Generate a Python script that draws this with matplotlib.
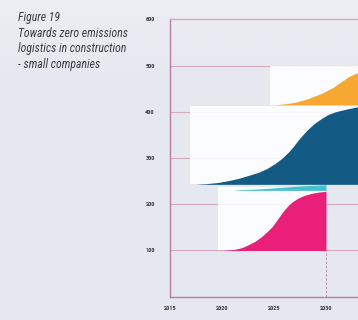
import numpy as np
import matplotlib
matplotlib.use("Agg")
import matplotlib.pyplot as plt
from matplotlib import font_manager

# ==========================
# DATA
# ==========================

x_ticks = [2015, 2020, 2025, 2030]
y_ticks = [100, 200, 300, 400, 500, 600]

orange_years = [2025.1, 2025.7, 2026.35, 2027.0, 2027.6, 2028.3, 2028.9, 2029.6,
                2030.2, 2030.7, 2031.15, 2031.6, 2032.1, 2032.6, 2033.1]
orange_vals = [415, 416.5, 418, 420.5, 424, 428.5, 434, 440,
               447, 453, 460, 467, 475, 480.5, 485]

blue_years = [2017.4, 2018.5, 2019.6, 2020.6, 2021.6, 2022.5, 2023.5, 2024.3,
              2025.1, 2025.8, 2026.4, 2026.9, 2027.3, 2027.8, 2028.3, 2028.9,
              2029.6, 2030.2, 2030.9, 2032.0, 2033.1]
blue_vals = [243, 244.5, 247, 251, 256, 262, 269, 277,
             288, 300, 313, 326, 338, 351, 363, 375,
             386, 394, 400, 406, 411]

cyan_years = [2021.3, 2022.2, 2023.0, 2023.8, 2024.5, 2025.3, 2026.0, 2026.8,
              2027.5, 2028.3, 2029.0, 2030.0]
cyan_vals = [231, 231.7, 232.5, 233.5, 234.5, 235.8, 237, 238.3,
             239.5, 240.4, 241, 242]

pink_years = [2020.0, 2020.6, 2021.25, 2021.9, 2022.5, 2023.2, 2023.8, 2024.3,
              2024.8, 2025.2, 2025.6, 2026.0, 2026.4, 2026.8, 2027.3, 2027.9,
              2028.6, 2029.2, 2030.0]
pink_vals = [100, 101, 102.5, 106, 112, 120, 130, 140,
             151, 163, 176, 188, 198, 206, 213, 219,
             223.5, 226, 228]

title = "Figure 19\nTowards zero emissions\nlogistics in construction\n- small companies"

# ==========================
# STYLE
# ==========================

names = {f.name for f in font_manager.fontManager.ttflist}
narrow = "DejaVu Sans"
for cand in ["Liberation Sans Narrow", "DejaVu Sans Condensed", "Roboto Condensed",
             "Open Sans Condensed", "Noto Sans Condensed"]:
    if cand in names:
        narrow = cand
        break

bg = "#e6e8ef"
grid_col = "#d7a9c2"
spine_col = "#b77fa2"
text_col = "#3b3b40"

fig = plt.figure(figsize=(3.58, 3.2), dpi=100)
fig.patch.set_facecolor(bg)

# faint diagonal texture at the top of the page
bg_ax = fig.add_axes([0, 0, 1, 1], zorder=-10)
h, w = 320, 358
yy, xx = np.mgrid[0:h, 0:w]
stripes = 0.5 + 0.5 * np.sin(2 * np.pi * (xx + yy) / 5.0)
fade = np.clip(1 - yy / 110.0, 0, 1) ** 1.5
base = np.array([0xe6, 0xe8, 0xef]) / 255.0
light = np.array([0xf0, 0xf1, 0xf4]) / 255.0
mix = (fade * (0.45 + 0.35 * stripes))[..., None]
img = base * (1 - mix) + light * mix
bg_ax.imshow(img, aspect="auto", extent=[0, 1, 0, 1], origin="upper")
bg_ax.set_axis_off()

ax = fig.add_axes([170 / 358, 23.3 / 320, 188 / 358, 277.4 / 320])
ax.set_facecolor("none")
ax.set_xlim(2015, 2033.08)
ax.set_ylim(0, 600)

for v in [100, 200, 300, 400, 500]:
    ax.axhline(v, color=grid_col, lw=0.8, zorder=1)

# white panels behind each curve
boxes = [
    (2024.6, 2034, 415, 500),
    (2016.9, 2034, 243, 413),
    (2019.65, 2030, 100, 238),
]
for x0, x1, y0, y1 in boxes:
    ax.fill_between([x0, x1], y0, y1, color="white", alpha=0.88, lw=0, zorder=2)

ax.fill_between(orange_years, 415, orange_vals, color="#f7a832", lw=0, zorder=3)
ax.fill_between(blue_years, 243, blue_vals, color="#135a84", lw=0, zorder=3)
ax.fill_between(cyan_years, 230, cyan_vals, color="#46c0cc", lw=0, zorder=3)
ax.fill_between(pink_years, 100, pink_vals, color="#ea1f79", lw=0, zorder=3)

ax.plot([2030, 2030], [0, 100], color=spine_col, lw=0.6, ls=(0, (3, 2)), zorder=1)

for side in ["left", "top", "bottom"]:
    ax.spines[side].set_color(spine_col)
    ax.spines[side].set_linewidth(1.0)
ax.spines["top"].set_color(grid_col)
ax.spines["right"].set_visible(False)

ax.set_xticks(x_ticks)
ax.set_xticklabels([str(x) for x in x_ticks])
ax.set_yticks(y_ticks)
ax.set_yticklabels([str(y) for y in y_ticks])
ax.tick_params(axis="both", length=0, labelsize=4.5, labelcolor=text_col)
ax.tick_params(axis="y", pad=11)
ax.tick_params(axis="x", pad=7)
for lab in ax.get_xticklabels() + ax.get_yticklabels():
    lab.set_family([narrow, "DejaVu Sans"])
    lab.set_fontweight("bold")

t = fig.text(18 / 358, 1 - 11 / 320, title, family=[narrow, "DejaVu Sans"],
             style="italic", fontsize=8.5, color=text_col, va="top", ha="left",
             linespacing=1.27)

# shrink the title so its longest line is about as wide as in the original
fig.canvas.draw()
width = t.get_window_extent().width
if width > 110:
    t.set_fontsize(8.5 * 110 / width)
    t.set_linespacing(1.27 * width / 110 * 0.95)

plt.savefig("out.png", dpi=100, facecolor=fig.get_facecolor())
plt.close()
